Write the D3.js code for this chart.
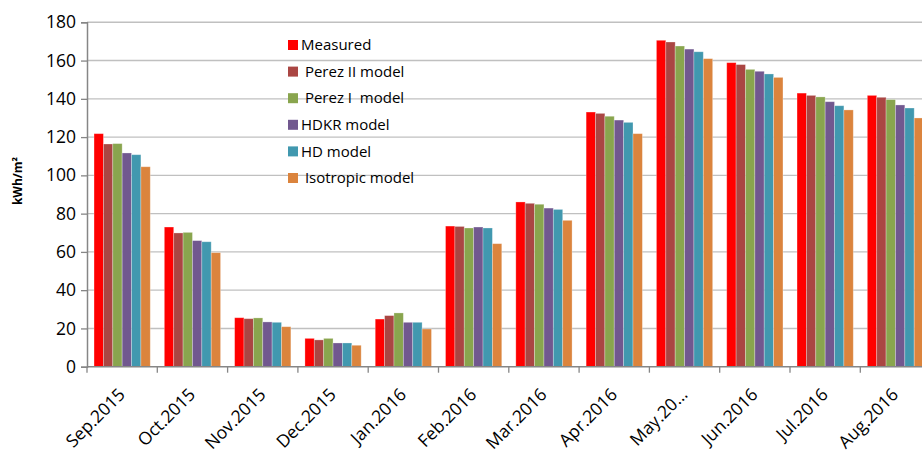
<!DOCTYPE html>
<html>
<head>
<meta charset="utf-8">
<script src="https://cdn.jsdelivr.net/npm/d3@7/dist/d3.min.js"></script>
<style>
  body { margin: 0; background: #fff; }
  svg { display: block; font-family: "Open Sans", sans-serif; }
</style>
</head>
<body>
<div id="plotspace"></div>
<script>
var months = ["Sep.2015", "Oct.2015", "Nov.2015", "Dec.2015", "Jan.2016", "Feb.2016",
              "Mar.2016", "Apr.2016", "May.20\u2026", "Jun.2016", "Jul.2016", "Aug.2016"];
var seriesNames = ["Measured", " Perez II model", " Perez I  model", "HDKR model", "HD model", " Isotropic model"];
var seriesColors = ["#ff0000", "#aa4643", "#89a54e", "#71588f", "#4198af", "#db843d"];

var measured = [121.8, 73.0, 25.6, 14.8, 24.9, 73.5, 86.1, 133.1, 170.6, 158.9, 143.0, 141.8];
var perez2   = [116.4, 69.9, 25.1, 14.0, 26.7, 73.3, 85.4, 132.4, 169.7, 157.9, 141.8, 140.8];
var perez1   = [116.6, 70.2, 25.5, 14.8, 28.1, 72.5, 84.9, 130.9, 167.6, 155.4, 141.0, 139.6];
var hdkr     = [111.7, 65.9, 23.4, 12.4, 23.2, 73.0, 82.9, 128.9, 166.0, 154.4, 138.5, 136.8];
var hd       = [110.8, 65.3, 23.2, 12.4, 23.2, 72.5, 82.2, 127.7, 164.6, 153.0, 136.4, 135.2];
var iso      = [104.5, 59.6, 20.9, 11.2, 19.7, 64.3, 76.5, 121.8, 161.0, 151.2, 134.2, 130.0];

var yTicks = [0, 20, 40, 60, 80, 100, 120, 140, 160, 180];

var draw = function() {
    var width = 922, height = 455;
    var left = 87, top = 22.3, bottom = 366.7;
    var step = 70.3;
    var plotW = step * months.length;

    var series = [measured, perez2, perez1, hdkr, hd, iso];

    var svg = d3.select("#plotspace").
        append("svg").
        attr("width", width).
        attr("height", height);

    var x0 = d3.scaleBand().domain(months).range([left, left + plotW]).padding(0);
    var x1 = d3.scaleBand().domain(d3.range(series.length)).
        range([step * 0.1, step * 0.9]).padding(0);
    var y = d3.scaleLinear().domain([0, 180]).range([bottom, top]);

    // gridlines
    svg.append("g").
        selectAll("line").
        data(yTicks.slice(1)).
        enter().append("line").
        attr("x1", left).
        attr("x2", left + plotW).
        attr("y1", function(d) { return y(d); }).
        attr("y2", function(d) { return y(d); }).
        attr("stroke", "#c0c0c0").
        attr("stroke-width", 1.4);

    // bars
    var groups = svg.append("g").
        selectAll("g").
        data(months).
        enter().append("g").
        attr("transform", function(d) { return "translate(" + x0(d) + ",0)"; });

    groups.selectAll("rect").
        data(function(d, i) { return series.map(function(s, k) { return {k: k, v: s[i]}; }); }).
        enter().append("rect").
        attr("x", function(d) { return x1(d.k); }).
        attr("y", function(d) { return y(d.v); }).
        attr("width", x1.bandwidth()).
        attr("height", function(d) { return y(0) - y(d.v); }).
        attr("fill", function(d) { return seriesColors[d.k]; }).
        attr("stroke", "#ffffff").
        attr("stroke-opacity", 0.35).
        attr("stroke-width", 0.8);

    // y axis
    var yAxis = d3.axisLeft(y).tickValues(yTicks).tickSize(6).tickPadding(5);
    var yg = svg.append("g").
        attr("transform", "translate(" + left + ",0)").
        call(yAxis);
    yg.select(".domain").attr("stroke", "#868686").attr("stroke-width", 1.5);
    yg.selectAll(".tick line").attr("stroke", "#868686").attr("stroke-width", 1.3);
    yg.selectAll(".tick text").
        attr("fill", "#000").
        style("font-size", "17.5px").
        style("font-family", "'Open Sans', sans-serif");

    // x axis
    var xg = svg.append("g").attr("transform", "translate(0," + bottom + ")");
    xg.append("line").
        attr("x1", left).
        attr("x2", left + plotW).
        attr("stroke", "#868686").
        attr("stroke-width", 1.5);
    xg.selectAll("line.tk").
        data(d3.range(months.length + 1)).
        enter().append("line").
        attr("class", "tk").
        attr("x1", function(d) { return left + d * x0.step(); }).
        attr("x2", function(d) { return left + d * x0.step(); }).
        attr("y1", 0).
        attr("y2", 6).
        attr("stroke", "#868686").
        attr("stroke-width", 1.3);
    xg.selectAll("text").
        data(months).
        enter().append("text").
        attr("transform", function(d) {
            return "translate(" + (x0(d) + x0.bandwidth() / 2 + 4) + ",29) rotate(-45)";
        }).
        attr("text-anchor", "end").
        style("font-size", "17.5px").
        attr("fill", "#000").
        text(function(d) { return d; });

    // y title
    svg.append("text").
        attr("transform", "translate(22,181) rotate(-90)").
        attr("text-anchor", "middle").
        style("font-size", "12px").
        style("font-weight", "bold").
        text("kWh/m\u00b2");

    // legend
    var legend = svg.append("g").
        selectAll("g").
        data(seriesNames).
        enter().append("g").
        attr("transform", function(d, i) { return "translate(288," + (45 + i * 26.6) + ")"; });
    legend.append("rect").
        attr("x", 0).
        attr("y", -5).
        attr("width", 10).
        attr("height", 10).
        attr("fill", function(d, i) { return seriesColors[i]; });
    legend.append("text").
        attr("x", 13).
        attr("dy", "0.35em").
        style("font-size", "15px").
        style("white-space", "pre").
        attr("xml:space", "preserve").
        text(function(d) { return d; });
};

draw();
</script>
</body>
</html>
